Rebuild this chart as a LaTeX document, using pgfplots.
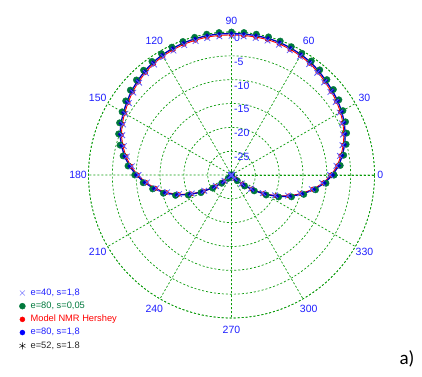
\documentclass[border=0pt]{standalone}
\usepackage{fontspec}
\setmainfont{Liberation Sans}
\newfontfamily\carl{Carlito}
\usepackage{pgfplots}
\pgfplotsset{compat=1.18}
\usepgfplotslibrary{polar}
\usepackage{pgfplotstable}

\definecolor{gridgreen}{RGB}{10,155,10}
\definecolor{labelblue}{RGB}{30,30,255}
\definecolor{xblue}{RGB}{90,90,255}
\definecolor{dgreen}{RGB}{0,120,60}
\definecolor{lineblue}{RGB}{0,0,190}

\pgfplotstableread{
a g b r x k
0 -8.5 -8.8 -9.1 -9.3 -9.0
5 -7.1 -7.4 -7.7 -7.9 -7.6
10 -6.1 -6.4 -6.7 -6.9 -6.6
15 -5.1 -5.4 -5.7 -5.9 -5.6
20 -4.3 -4.6 -4.9 -5.1 -4.8
25 -3.6 -3.9 -4.2 -4.4 -4.1
30 -3.0 -3.3 -3.6 -3.8 -3.5
35 -2.5 -2.8 -3.1 -3.3 -3.0
40 -2.1 -2.4 -2.7 -2.9 -2.6
45 -1.7 -2.0 -2.3 -2.5 -2.2
50 -1.2 -1.5 -1.8 -2.0 -1.7
55 -0.8 -1.1 -1.4 -1.6 -1.3
60 -0.5 -0.8 -1.1 -1.3 -1.0
65 -0.3 -0.6 -0.9 -1.1 -0.8
70 -0.1 -0.4 -0.7 -0.9 -0.6
75 0.0 -0.3 -0.6 -0.8 -0.5
80 0.0 -0.3 -0.6 -0.8 -0.5
85 0.0 -0.3 -0.6 -0.8 -0.5
90 0.0 -0.3 -0.6 -0.8 -0.5
95 0.0 -0.3 -0.6 -0.8 -0.5
100 0.0 -0.3 -0.6 -0.8 -0.5
105 -0.1 -0.4 -0.7 -0.9 -0.6
110 -0.2 -0.5 -0.8 -1.0 -0.7
115 -0.4 -0.7 -1.0 -1.2 -0.9
120 -0.6 -0.9 -1.2 -1.4 -1.1
125 -0.9 -1.2 -1.5 -1.7 -1.4
130 -1.3 -1.6 -1.9 -2.1 -1.8
135 -1.8 -2.1 -2.4 -2.6 -2.3
140 -2.3 -2.6 -2.9 -3.1 -2.8
145 -2.9 -3.2 -3.5 -3.7 -3.4
150 -3.5 -3.8 -4.1 -4.3 -4.0
155 -4.1 -4.4 -4.7 -4.9 -4.6
160 -4.8 -5.1 -5.4 -5.6 -5.3
165 -5.8 -6.1 -6.4 -6.6 -6.3
170 -6.9 -7.2 -7.5 -7.7 -7.4
175 -8.2 -8.5 -8.8 -9.0 -8.7
180 -9.7 -10.0 -10.3 -10.5 -10.2
185 -11.4 -11.7 -12.0 -12.2 -11.9
190 -13.2 -13.5 -13.8 -14.0 -13.7
195 -15.2 -15.5 -15.8 -16.0 -15.7
200 -17.5 -17.8 -18.1 -18.3 -18.0
205 -20.0 -20.3 -20.6 -20.8 -20.5
210 -22.6 -22.9 -23.2 -23.4 -23.1
215 -25.2 -25.5 -25.8 -26.0 -25.7
220 -27.3 -27.6 -27.9 -28.1 -27.8
225 -29.0 -29.3 -29.6 -29.8 -29.5
230 -30 -30 -30 -30 -30
235 -30 -30 -30 -30 -30
240 -30 -30 -30 -30 -30
245 -30 -30 -30 -30 -30
250 -30 -30 -30 -30 -30
255 -30 -30 -30 -30 -30
260 -30 -30 -30 -30 -30
265 -30 -30 -30 -30 -30
270 -30 -30 -30 -30 -30
275 -30 -30 -30 -30 -30
280 -30 -30 -30 -30 -30
285 -30 -30 -30 -30 -30
290 -30 -30 -30 -30 -30
295 -30 -30 -30 -30 -30
300 -30 -30 -30 -30 -30
305 -30 -30 -30 -30 -30
310 -30 -30 -30 -30 -30
315 -28.3 -28.6 -28.9 -29.1 -28.8
320 -26.4 -26.7 -27.0 -27.2 -26.9
325 -24.2 -24.5 -24.8 -25.0 -24.7
330 -21.6 -21.9 -22.2 -22.4 -22.1
335 -19.1 -19.4 -19.7 -19.9 -19.6
340 -16.6 -16.9 -17.2 -17.4 -17.1
345 -14.3 -14.6 -14.9 -15.1 -14.8
350 -12.1 -12.4 -12.7 -12.9 -12.6
355 -10.1 -10.4 -10.7 -10.9 -10.6
360 -8.5 -8.8 -9.1 -9.3 -9.0
}\data

\pgfplotsset{mylegimg/.style={legend image code/.code={\draw[##1] plot coordinates {(4pt,0pt)}; \path (0pt,-3pt) (8pt,3pt);}}}

\begin{document}
\begin{tikzpicture}[x=1pt,y=1pt]
\path[use as bounding box] (0,0) rectangle (422,376);
\begin{polaraxis}[
  at={(231.5pt,201pt)}, anchor=center,
  scale only axis, width=286pt, height=286pt,
  xmin=0, xmax=360, ymin=0, ymax=30,
  xtick={0,30,...,330}, ytick={0,5,...,30}, yticklabels={}, xticklabels={},
  grid=major,
  major grid style={draw=gridgreen, dash pattern=on 2pt off 2pt, line width=0.7pt},
  axis line style={draw=gridgreen, dash pattern=on 2pt off 2pt, line width=0.7pt},
  major tick length=0pt,
  clip=false,
  legend style={draw=none, fill=none, at={(-0.2465,0.1066)}, anchor=north west,
    font=\fontsize{9.3}{10}\selectfont, inner sep=0pt, column sep=3pt, row sep=2.7pt,
    nodes={inner sep=1pt, text height=6.5pt, text depth=2pt}},
  legend cell align=left,
]
\addplot[forget plot, only marks, mark=asterisk, mark size=3pt, black] table[x=a, y expr=\thisrow{k}+30] {\data};
\addplot[forget plot, red, line width=0.9pt, mark=*, mark size=2pt] table[x=a, y expr=\thisrow{r}+30] {\data};
\addplot[forget plot, only marks, dgreen, mark=*, mark size=3.2pt] table[x=a, y expr=\thisrow{g}+30] {\data};
\addplot[forget plot, lineblue, line width=1.3pt, mark=*, mark size=1.3pt] table[x=a, y expr=\thisrow{b}+30] {\data};
\addplot[forget plot, only marks, xblue, mark=x, mark size=4pt, mark options={line width=0.8pt}] table[x=a, y expr=\thisrow{x}+30] {\data};

\addlegendimage{mylegimg, only marks, mark=x, mark size=3.5pt, xblue}
\addlegendentry[text=labelblue]{e=40, s=1,8}
\addlegendimage{mylegimg, only marks, mark=*, mark size=3pt, dgreen}
\addlegendentry[text=dgreen]{e=80, s=0,05}
\addlegendimage{mylegimg, only marks, mark=*, mark size=2.5pt, red}
\addlegendentry[text=red]{Model NMR Hershey}
\addlegendimage{mylegimg, only marks, mark=*, mark size=2.5pt, blue}
\addlegendentry[text=labelblue]{e=80, s=1,8}
\addlegendimage{mylegimg, only marks, mark=asterisk, mark size=3.5pt, black}
\addlegendentry[text=black!85]{e=52, s=1.8}

\foreach \r/\t in {30/0,25/-5,20/-10,15/-15,10/-20,5/-25}{
  \edef\temp{\noexpand\node[anchor=north west, text=labelblue, font=\noexpand\fontsize{10.5}{12}\noexpand\selectfont, inner sep=1pt, xshift=1.5pt, yshift=-1pt] at (axis cs:90,\r) {\t};}
  \temp
}
\foreach \a/\rr in {0/31.2,30/32.2,60/32.4,90/32.4,120/32.4,150/32.4,180/32.2,210/32.4,240/32.4,270/32.4,300/32.4,330/32.2}{
  \edef\temp{\noexpand\node[text=labelblue, font=\noexpand\fontsize{10.5}{12}\noexpand\selectfont, inner sep=0pt] at (axis cs:\a,\rr) {\a};}
  \temp
}
\end{polaraxis}
\node[font=\carl\fontsize{19}{22}\selectfont] at (407,17) {a)};
\end{tikzpicture}
\end{document}
